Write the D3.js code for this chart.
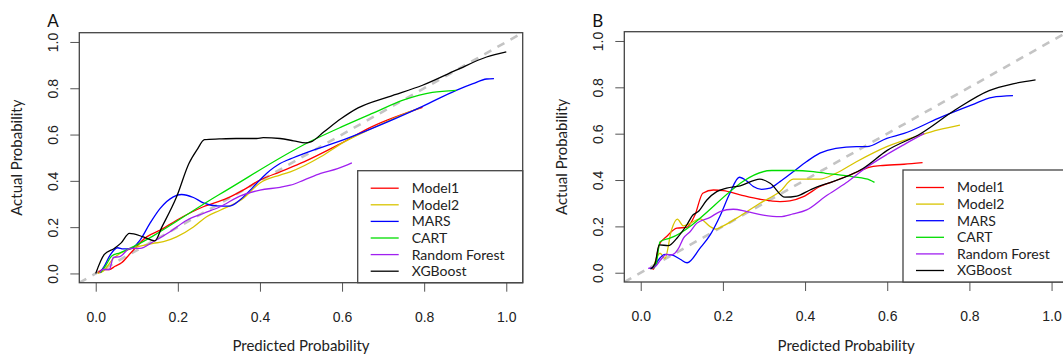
<!DOCTYPE html>
<html>
<head>
<meta charset="utf-8">
<script src="https://cdn.jsdelivr.net/npm/d3@7"></script>
<style>
  body { margin: 0; background: #fff; }
  svg { display: block; font-family: Lato, "Open Sans", sans-serif; }
</style>
</head>
<body>
<svg id="chart" width="1063" height="356"></svg>
<script>
// series names and colours (legend order)
const seriesNames = ["Model1", "Model2", "MARS", "CART", "Random Forest", "XGBoost"];
const seriesColors = ["#ff0000", "#d8c400", "#0000ff", "#00dd00", "#a020f0", "#000000"];
const tickValues = [0, 0.2, 0.4, 0.6, 0.8, 1.0];

// panel A: [predicted, actual]
const aModel1 = [[0.005,0.002],[0.018,0.017],[0.033,0.017],[0.047,0.031],[0.063,0.046],[0.084,0.086],[0.124,0.158],[0.157,0.187],[0.197,0.23],[0.262,0.288],[0.319,0.324],[0.359,0.36],[0.4,0.403],[0.449,0.439],[0.507,0.482],[0.589,0.554],[0.672,0.633],[0.796,0.717]];
const aModel2 = [[0.005,0.0],[0.018,0.01],[0.043,0.065],[0.075,0.1],[0.108,0.118],[0.14,0.13],[0.165,0.137],[0.197,0.158],[0.238,0.201],[0.27,0.245],[0.303,0.273],[0.359,0.324],[0.4,0.391],[0.449,0.425],[0.474,0.439],[0.548,0.504],[0.598,0.561],[0.672,0.626],[0.754,0.691],[0.79,0.715]];
const aMars = [[0.01,0.003],[0.021,0.032],[0.035,0.079],[0.053,0.111],[0.067,0.106],[0.084,0.106],[0.108,0.144],[0.132,0.216],[0.157,0.281],[0.189,0.331],[0.209,0.341],[0.238,0.328],[0.262,0.305],[0.295,0.292],[0.327,0.291],[0.351,0.317],[0.384,0.374],[0.416,0.432],[0.449,0.475],[0.466,0.489],[0.507,0.518],[0.589,0.568],[0.672,0.626],[0.796,0.722],[0.878,0.791],[0.919,0.82],[0.952,0.84],[0.97,0.842]];
const aCart = [[0.012,0.003],[0.025,0.036],[0.039,0.075],[0.059,0.089],[0.3,0.34],[0.52,0.568],[0.6,0.634],[0.672,0.69],[0.754,0.752],[0.82,0.782],[0.878,0.791]];
const aForest = [[0.01,0.005],[0.017,0.017],[0.033,0.017],[0.043,0.069],[0.059,0.073],[0.084,0.108],[0.108,0.108],[0.14,0.137],[0.181,0.18],[0.222,0.23],[0.262,0.259],[0.303,0.288],[0.351,0.334],[0.4,0.36],[0.449,0.372],[0.474,0.381],[0.507,0.403],[0.548,0.432],[0.589,0.453],[0.624,0.478]];
const aXgb = [[0.0,0.0],[0.021,0.082],[0.045,0.108],[0.062,0.132],[0.082,0.173],[0.116,0.158],[0.144,0.141],[0.161,0.2],[0.197,0.331],[0.227,0.475],[0.247,0.535],[0.265,0.578],[0.301,0.581],[0.342,0.583],[0.392,0.583],[0.408,0.587],[0.449,0.583],[0.482,0.573],[0.511,0.564],[0.524,0.568],[0.556,0.612],[0.598,0.669],[0.639,0.715],[0.713,0.763],[0.796,0.813],[0.878,0.878],[0.952,0.935],[1.0,0.957]];

// panel B
const bModel1 = [[0.027,0.019],[0.031,0.015],[0.045,0.12],[0.063,0.156],[0.088,0.192],[0.112,0.196],[0.132,0.249],[0.151,0.343],[0.177,0.357],[0.201,0.354],[0.242,0.336],[0.29,0.317],[0.339,0.307],[0.363,0.31],[0.396,0.328],[0.436,0.372],[0.475,0.398],[0.52,0.43],[0.558,0.456],[0.583,0.462],[0.641,0.468],[0.686,0.475]];
const bModel2 = [[0.031,0.026],[0.047,0.084],[0.059,0.062],[0.075,0.185],[0.089,0.231],[0.104,0.202],[0.12,0.213],[0.144,0.232],[0.169,0.199],[0.183,0.188],[0.201,0.202],[0.242,0.245],[0.29,0.3],[0.339,0.35],[0.371,0.404],[0.404,0.404],[0.436,0.404],[0.475,0.429],[0.525,0.479],[0.599,0.544],[0.682,0.594],[0.724,0.616],[0.777,0.637]];
const bMars = [[0.021,0.019],[0.031,0.022],[0.043,0.055],[0.059,0.079],[0.075,0.077],[0.096,0.058],[0.113,0.043],[0.144,0.105],[0.169,0.163],[0.193,0.245],[0.217,0.343],[0.24,0.412],[0.258,0.396],[0.274,0.372],[0.294,0.36],[0.315,0.365],[0.339,0.393],[0.371,0.436],[0.404,0.48],[0.436,0.516],[0.475,0.537],[0.525,0.544],[0.55,0.544],[0.599,0.58],[0.641,0.601],[0.724,0.666],[0.806,0.724],[0.856,0.757],[0.906,0.764]];
const bCart = [[0.031,0.019],[0.037,0.033],[0.047,0.134],[0.071,0.149],[0.319,0.441],[0.371,0.441],[0.42,0.436],[0.45,0.429],[0.517,0.414],[0.558,0.4],[0.569,0.39]];
const bForest = [[0.018,0.019],[0.035,0.026],[0.047,0.052],[0.063,0.079],[0.075,0.077],[0.092,0.105],[0.104,0.149],[0.12,0.177],[0.136,0.213],[0.169,0.239],[0.193,0.264],[0.225,0.274],[0.258,0.264],[0.298,0.249],[0.339,0.242],[0.371,0.254],[0.404,0.271],[0.45,0.33],[0.5,0.388],[0.55,0.455],[0.599,0.51],[0.641,0.553],[0.69,0.601]];
const bXgb = [[0.024,0.015],[0.035,0.041],[0.045,0.12],[0.067,0.117],[0.088,0.149],[0.112,0.206],[0.127,0.249],[0.14,0.264],[0.161,0.314],[0.185,0.35],[0.209,0.365],[0.242,0.375],[0.29,0.404],[0.315,0.386],[0.351,0.326],[0.38,0.331],[0.412,0.357],[0.436,0.375],[0.459,0.388],[0.541,0.45],[0.599,0.527],[0.682,0.601],[0.765,0.702],[0.848,0.786],[0.906,0.815],[0.961,0.832]];

const svg = d3.select("#chart");
const domain = [-0.04, 1.04]; // R's default 4% padding

function drawPanel({ label, series, left, right, top, bottom, id }) {
    const x = d3.scaleLinear().domain(domain).range([left, right]);
    const y = d3.scaleLinear().domain(domain).range([bottom, top]);
    const g = svg.append("g");

    g.append("clipPath").attr("id", id)
        .append("rect")
        .attr("x", left).attr("y", top)
        .attr("width", right - left).attr("height", bottom - top);

    const plot = g.append("g").attr("clip-path", `url(#${id})`);

    // perfect-calibration reference
    plot.append("line")
        .attr("x1", x(domain[0])).attr("y1", y(domain[0]))
        .attr("x2", x(domain[1])).attr("y2", y(domain[1]))
        .attr("stroke", "#c4c4c4")
        .attr("stroke-width", 2.6)
        .attr("stroke-dasharray", "8,7");

    const line = d3.line()
        .x(d => x(d[0]))
        .y(d => y(d[1]))
        .curve(d3.curveMonotoneX);

    plot.selectAll("path.series")
        .data(series)
        .join("path")
        .attr("class", "series")
        .attr("fill", "none")
        .attr("stroke", (d, i) => seriesColors[i])
        .attr("stroke-width", 1.3)
        .attr("stroke-linejoin", "round")
        .attr("d", line);

    // axes, R style: ticks outside, labels parallel to the axis
    const xAxis = g.append("g").attr("transform", `translate(0,${bottom})`)
        .call(d3.axisBottom(x).tickValues(tickValues).tickFormat(d3.format(".1f")).tickSize(9).tickSizeOuter(0));
    xAxis.select(".domain").remove();
    xAxis.selectAll(".tick line").attr("stroke", "#555");
    xAxis.selectAll(".tick text")
        .attr("y", 0).attr("dy", null)
        .attr("transform", "translate(0,39)")
        .attr("fill", "#222")
        .style("font-size", "14px");

    const yAxis = g.append("g").attr("transform", `translate(${left},0)`)
        .call(d3.axisLeft(y).tickValues(tickValues).tickFormat(d3.format(".1f")).tickSize(9).tickSizeOuter(0));
    yAxis.select(".domain").remove();
    yAxis.selectAll(".tick line").attr("stroke", "#555");
    yAxis.selectAll(".tick text")
        .attr("x", 0).attr("dy", null)
        .attr("text-anchor", "middle")
        .attr("transform", "translate(-21,0) rotate(-90)")
        .attr("y", 0)
        .attr("fill", "#222")
        .style("font-size", "14px");

    // plot frame
    g.append("rect")
        .attr("x", left).attr("y", top)
        .attr("width", right - left).attr("height", bottom - top)
        .attr("fill", "none")
        .attr("stroke", "#444")
        .attr("stroke-width", 1.3);

    g.append("text")
        .attr("x", (left + right) / 2)
        .attr("y", 351)
        .attr("text-anchor", "middle")
        .attr("fill", "#222")
        .style("font-size", "15px")
        .text("Predicted Probability");

    g.append("text")
        .attr("transform", `translate(${left - 57},${(top + bottom) / 2}) rotate(-90)`)
        .attr("text-anchor", "middle")
        .attr("fill", "#222")
        .style("font-size", "15px")
        .text("Actual Probability");

    g.append("text")
        .attr("x", left - 32)
        .attr("y", 27)
        .attr("fill", "#111")
        .style("font-size", "17px")
        .text(label);

    // legend, anchored bottom-right
    const lw = 165, lh = 112;
    const lg = g.append("g").attr("transform", `translate(${right - lw},${bottom - lh})`);
    lg.append("rect")
        .attr("width", lw).attr("height", lh)
        .attr("fill", "#fff")
        .attr("stroke", "#444")
        .attr("stroke-width", 1.3);
    const item = lg.selectAll("g.item")
        .data(seriesNames)
        .join("g")
        .attr("class", "item")
        .attr("transform", (d, i) => `translate(0,${17.5 + i * 16.6})`);
    item.append("line")
        .attr("x1", 13).attr("x2", 41)
        .attr("stroke", (d, i) => seriesColors[i])
        .attr("stroke-width", 1.3);
    item.append("text")
        .attr("x", 54).attr("dy", "0.35em")
        .attr("fill", "#222")
        .style("font-size", "14px")
        .text(d => d);
}

drawPanel({
    label: "A", id: "clipA",
    series: [aModel1, aModel2, aMars, aCart, aForest, aXgb],
    left: 79.3, right: 522.7, top: 32.7, bottom: 282.7
});
drawPanel({
    label: "B", id: "clipB",
    series: [bModel1, bModel2, bMars, bCart, bForest, bXgb],
    left: 624.3, right: 1068, top: 31.7, bottom: 282
});
</script>
</body>
</html>
